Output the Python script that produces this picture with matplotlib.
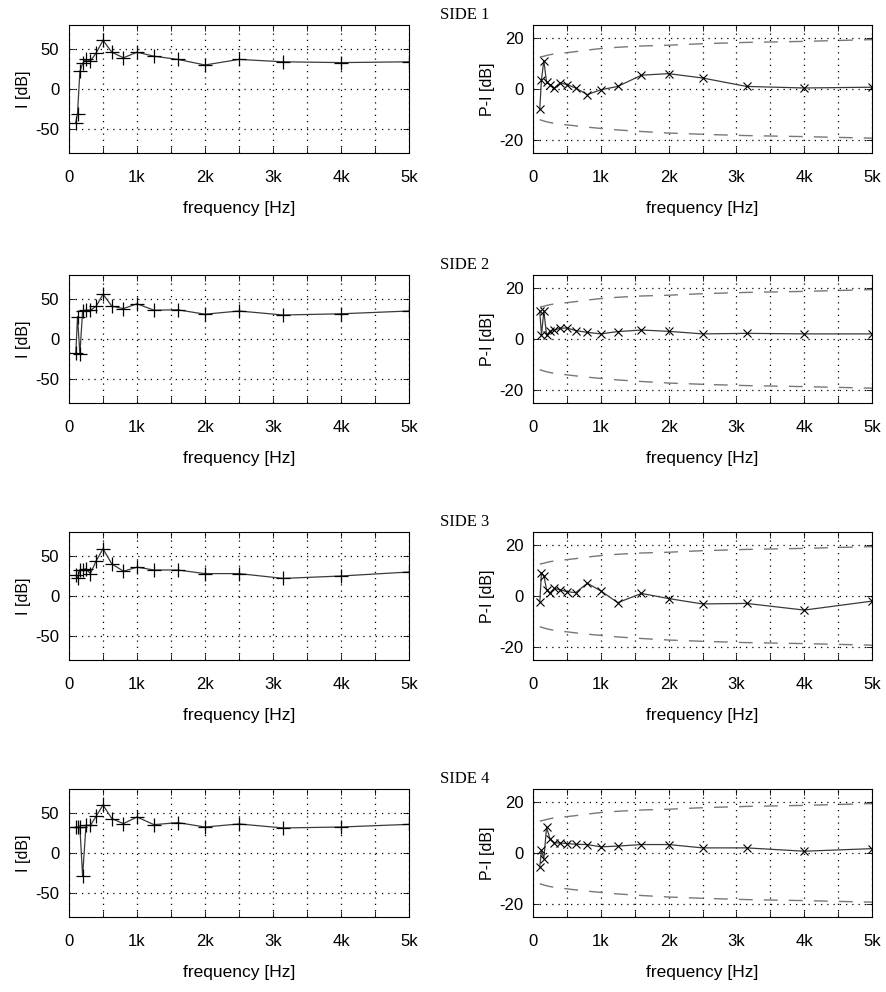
import matplotlib
matplotlib.use('Agg')
import matplotlib.pyplot as plt

# third-octave band centre frequencies [Hz]
freqs = [100, 125, 160, 200, 250, 315, 400, 500, 630, 800, 1000,
         1250, 1600, 2000, 2500, 3150, 4000, 5000]

# intensity level I [dB] per side
i_side1 = [-42, -31, 22, 32, 37, 35, 45, 61, 46, 39, 46, 41, 37, 30, 37, 34, 33, 34]
i_side2 = [-18, 28, -19, 35, 36, 36, 41, 56, 41, 38, 44, 36, 36.5, 31, 35, 30, 31.5, 35]
i_side3 = [26, 22, 32, 33, 34, 28, 44, 59, 40, 31, 36, 32.5, 32.5, 28, 28, 22, 25, 30]
i_side4 = [32.5, 32.5, 32.5, -29, 34.6, 34.6, 46, 60, 43, 36.7, 45, 35.4, 38, 32.5, 36.3, 31.3, 32.5, 35.8]

# pressure-intensity index P-I [dB] per side
pi_side1 = [-7.8, 3.7, 11.1, 2.6, 1.7, 0.4, 2.4, 1.7, 0.4, -2.2, -0.3, 1.0, 5.4, 6.0, 4.3, 1.0, 0.4, 0.7]
pi_side2 = [11, 1.5, 11, 1.5, 3, 3.5, 4.2, 4.3, 3.3, 2.6, 2, 2.9, 3.5, 3, 2, 2.2, 2, 2]
pi_side3 = [-2.2, 9, 8, 2.5, 1, 3, 2.4, 1.7, 1.3, 5, 2, -2.6, 1, -1, -3.1, -2.9, -5.5, -2]
pi_side4 = [-5.4, 1, -2.2, 10, 5.6, 4, 3.9, 3.7, 3.4, 3.3, 2.4, 2.7, 3.3, 3.3, 2, 2, 0.7, 1.7]

# dynamic capability limits (dashed)
upper_limit = [12.5, 12.6, 12.8, 13.1, 13.4, 13.7, 14.0, 14.2, 14.6, 15.2, 15.8,
               16.3, 16.8, 17.1, 17.7, 18.2, 18.6, 19.3]
lower_limit = [-12.0, -12.2, -12.5, -12.8, -13.1, -13.4, -13.7, -14.0, -14.4, -14.9, -15.4,
               -16.0, -16.6, -17.2, -17.7, -18.2, -18.6, -19.2]

side_labels = ['SIDE 1', 'SIDE 2', 'SIDE 3', 'SIDE 4']
i_data = [i_side1, i_side2, i_side3, i_side4]
pi_data = [pi_side1, pi_side2, pi_side3, pi_side4]

xticks = [0, 500, 1000, 1500, 2000, 2500, 3000, 3500, 4000, 4500, 5000]
xticklabels = ['0', '', '1k', '', '2k', '', '3k', '', '4k', '', '5k']

plt.rcParams['font.family'] = ['Liberation Sans', 'DejaVu Sans']
plt.rcParams['axes.unicode_minus'] = False

W, H = 887, 992
fig = plt.figure(figsize=(W / 100, H / 100), dpi=100)

row_tops = [25, 275, 532, 789]
ax_h = 128
left_x = (69, 409)
right_x = (533, 872)


def make_axes(x0, x1, top):
    return fig.add_axes([x0 / W, 1 - (top + ax_h) / H, (x1 - x0) / W, ax_h / H])


def style(ax, yticks, ylabel):
    ax.set_xlim(0, 5000)
    ax.set_xticks(xticks)
    ax.set_xticklabels(xticklabels)
    ax.set_yticks(yticks)
    ax.grid(True, color='black', linestyle=(0, (1, 4)), linewidth=0.9)
    ax.tick_params(direction='in', length=4, width=0.6, labelsize=12,
                   top=True, right=True, pad=7)
    ax.tick_params(axis='x', pad=12)
    ax.set_xlabel('frequency [Hz]', fontsize=12.5, labelpad=12)
    ax.set_ylabel(ylabel, fontsize=11.5, labelpad=3)
    for sp in ax.spines.values():
        sp.set_linewidth(0.8)


for k in range(4):
    top = row_tops[k]

    ax = make_axes(left_x[0], left_x[1], top)
    ax.plot(freqs, i_data[k], color='#3a3a3a', linewidth=0.9,
            marker='+', markersize=10, markeredgewidth=0.9, markeredgecolor='black')
    ax.set_ylim(-80, 80)
    style(ax, [-50, 0, 50], 'I [dB]')

    ax2 = make_axes(right_x[0], right_x[1], top)
    ax2.plot(freqs, upper_limit, color='#777777', linewidth=1.0, dashes=(10, 8))
    ax2.plot(freqs, lower_limit, color='#777777', linewidth=1.0, dashes=(10, 8))
    ax2.plot(freqs, pi_data[k], color='#3a3a3a', linewidth=0.9,
             marker='x', markersize=6, markeredgewidth=0.8, markeredgecolor='black')
    ax2.set_ylim(-25, 25)
    style(ax2, [-20, 0, 20], 'P-I [dB]')

    fig.text(440 / W, 1 - (top - 10) / H, side_labels[k], fontsize=12,
             family=['Liberation Serif', 'DejaVu Serif'], ha='left', va='center')

fig.savefig('out.png', dpi=100)
